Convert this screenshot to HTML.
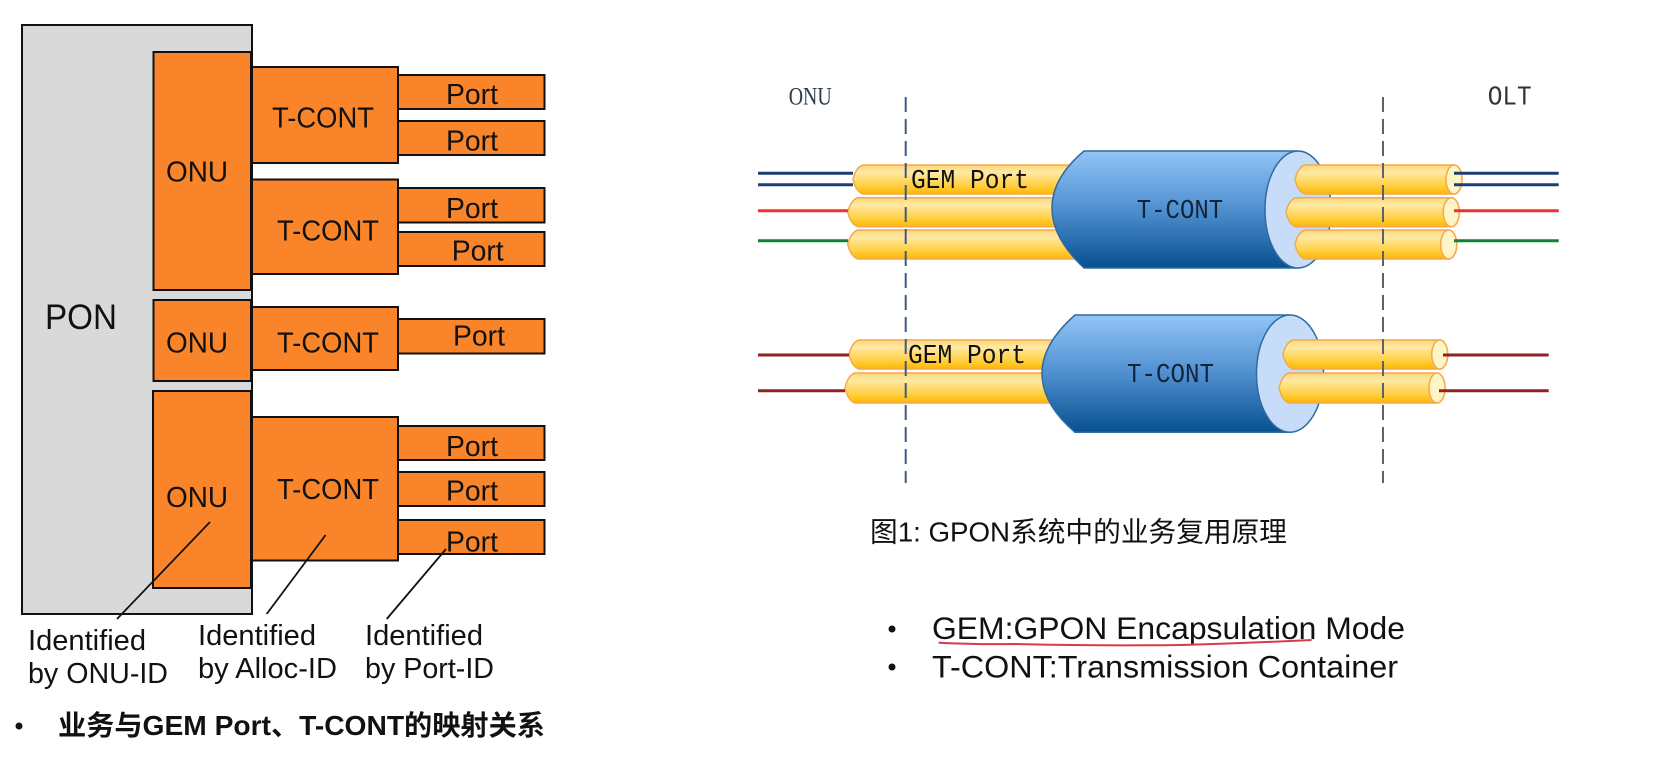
<!DOCTYPE html>
<html>
<head>
<meta charset="utf-8">
<style>
html,body{margin:0;padding:0;background:#fff;width:1669px;height:762px;overflow:hidden}
svg{display:block;filter:blur(.35px)}
text{font-family:"Liberation Sans","Noto Sans CJK SC",sans-serif;fill:#111}
.b{fill:#fa8429;stroke:#111;stroke-width:2}
.l{font-size:29px}
.m{font-family:"Liberation Mono",monospace;font-size:27px}
.s{font-family:"Liberation Serif",serif;font-size:25px}
.w{fill:none;stroke-width:3}
</style>
</head>
<body>
<svg width="1669" height="762" viewBox="0 0 1669 762" xmlns="http://www.w3.org/2000/svg">
<defs>
<linearGradient id="t" x1="0" y1="0" x2="0" y2="1">
<stop offset="0" stop-color="#fbd67a"/><stop offset=".25" stop-color="#ffe9a4"/><stop offset=".7" stop-color="#ffd044"/><stop offset="1" stop-color="#ffb600"/>
</linearGradient>
<linearGradient id="c" x1="0" y1="0" x2="0" y2="1">
<stop offset="0" stop-color="#92c4f7"/><stop offset=".5" stop-color="#4f8fd0"/><stop offset="1" stop-color="#07508f"/>
</linearGradient>
</defs>

<!-- left diagram -->
<rect class="b" style="fill:#d9d9d9" x="22" y="25" width="230" height="589"/>
<rect class="b" x="153.500" y="52" width="97.500" height="238"/>
<rect class="b" x="153.500" y="300" width="97.500" height="81"/>
<rect class="b" x="153" y="391" width="98" height="197"/>
<rect class="b" x="252" y="67" width="146" height="96"/>
<rect class="b" x="252" y="179.500" width="146" height="94.500"/>
<rect class="b" x="252" y="307" width="146" height="63"/>
<rect class="b" x="252" y="417" width="146" height="143.500"/>
<rect class="b" x="398" y="75" width="146.500" height="34"/>
<rect class="b" x="398" y="121" width="146.500" height="34"/>
<rect class="b" x="398" y="188" width="146.500" height="34.500"/>
<rect class="b" x="398" y="232" width="146.500" height="34"/>
<rect class="b" x="398" y="319" width="146.500" height="34.500"/>
<rect class="b" x="398" y="426" width="146.500" height="34"/>
<rect class="b" x="398" y="472" width="146.500" height="34"/>
<rect class="b" x="398" y="520" width="146.500" height="34"/>

<text x="45" y="329" font-size="35" textLength="72" lengthAdjust="spacingAndGlyphs">PON</text>
<text class="l" x="166" y="181.700" textLength="62" lengthAdjust="spacingAndGlyphs">ONU</text>
<text class="l" x="166" y="352.700" textLength="62" lengthAdjust="spacingAndGlyphs">ONU</text>
<text class="l" x="166" y="507" textLength="62" lengthAdjust="spacingAndGlyphs">ONU</text>
<text class="l" x="272" y="127.700" textLength="102" lengthAdjust="spacingAndGlyphs">T-CONT</text>
<text class="l" x="277" y="240.700" textLength="102" lengthAdjust="spacingAndGlyphs">T-CONT</text>
<text class="l" x="277" y="352.700" textLength="102" lengthAdjust="spacingAndGlyphs">T-CONT</text>
<text class="l" x="277" y="499" textLength="102" lengthAdjust="spacingAndGlyphs">T-CONT</text>
<text class="l" x="446" y="104" textLength="52" lengthAdjust="spacingAndGlyphs">Port</text>
<text class="l" x="446" y="150.700" textLength="52" lengthAdjust="spacingAndGlyphs">Port</text>
<text class="l" x="446" y="218" textLength="52" lengthAdjust="spacingAndGlyphs">Port</text>
<text class="l" x="451.700" y="260.700" textLength="52" lengthAdjust="spacingAndGlyphs">Port</text>
<text class="l" x="453" y="345.700" textLength="52" lengthAdjust="spacingAndGlyphs">Port</text>
<text class="l" x="446" y="456" textLength="52" lengthAdjust="spacingAndGlyphs">Port</text>
<text class="l" x="446" y="500.700" textLength="52" lengthAdjust="spacingAndGlyphs">Port</text>
<text class="l" x="446" y="551.700" textLength="52" lengthAdjust="spacingAndGlyphs">Port</text>

<g stroke="#111" stroke-width="1.800">
<line x1="210" y1="522" x2="117" y2="619"/>
<line x1="325.600" y1="535" x2="266.700" y2="614"/>
<line x1="446" y1="549" x2="386.700" y2="619"/>
</g>

<g font-size="29">
<text x="28" y="650" textLength="118" lengthAdjust="spacingAndGlyphs">Identified</text>
<text x="28" y="683" textLength="140" lengthAdjust="spacingAndGlyphs">by ONU-ID</text>
<text x="198" y="645" textLength="118" lengthAdjust="spacingAndGlyphs">Identified</text>
<text x="198" y="678" textLength="139" lengthAdjust="spacingAndGlyphs">by Alloc-ID</text>
<text x="365" y="645" textLength="118" lengthAdjust="spacingAndGlyphs">Identified</text>
<text x="365" y="678" textLength="129" lengthAdjust="spacingAndGlyphs">by Port-ID</text>
</g>
<circle cx="19" cy="726" r="3.500" fill="#111"/>
<text x="58" y="735" font-size="28" font-weight="bold" textLength="487" lengthAdjust="spacingAndGlyphs">业务与GEM Port、T-CONT的映射关系</text>

<!-- left tubes -->
<g fill="url(#t)" stroke="#f3a94c" stroke-width="1.500">
<path d="M863 165H1110V194H863Q856 192 853 179.500Q856 167 863 165Z"/>
<path d="M858 197.700H1110V226.700H858Q851 225 847.700 212Q851 199.700 858 197.700Z"/>
<path d="M858 230H1110V259H858Q851 257 847.700 244.500Q851 232 858 230Z"/>
<path d="M859 340H1100V369H859Q852 367 849 354.500Q852 342 859 340Z"/>
<path d="M855 373H1100V403H855Q848 401 845 388Q848 375 855 373Z"/>
</g>

<!-- top cable body -->
<path d="M1084 151H1298V268H1084Q1052 238 1052 208Q1052 178 1084 151Z" fill="url(#c)" stroke="#2f6b9f" stroke-width="1.500"/>
<ellipse cx="1298" cy="209.500" rx="33" ry="58.500" fill="#c6dcf8" stroke="#2f6b9f" stroke-width="1.500"/>
<!-- bottom cable body -->
<path d="M1075 315H1290V432.300H1075Q1042 404 1042 373.500Q1042 344 1075 315Z" fill="url(#c)" stroke="#2f6b9f" stroke-width="1.500"/>
<ellipse cx="1290" cy="373.600" rx="33.500" ry="58.600" fill="#c6dcf8" stroke="#2f6b9f" stroke-width="1.500"/>

<!-- right tubes -->
<g stroke="#f3a94c" stroke-width="1.500">
<path fill="url(#t)" d="M1305 165H1454A8 14.500 0 0 1 1454 194H1305Q1298 192 1295 179.500Q1298 167 1305 165Z"/>
<ellipse cx="1454" cy="179.500" rx="8" ry="14.500" fill="#fdf5c6"/>
<path fill="url(#t)" d="M1296 197.700H1451.300A8 14.500 0 0 1 1451.300 226.700H1296Q1289 225 1286 212Q1289 199.700 1296 197.700Z"/>
<ellipse cx="1451.300" cy="212.200" rx="8" ry="14.500" fill="#fdf5c6"/>
<path fill="url(#t)" d="M1305 230H1448.700A8 14.500 0 0 1 1448.700 259H1305Q1298 257 1295 244.500Q1298 232 1305 230Z"/>
<ellipse cx="1448.700" cy="244.500" rx="8" ry="14.500" fill="#fdf5c6"/>
<path fill="url(#t)" d="M1293 340H1439.700A8 14.500 0 0 1 1439.700 369H1293Q1286 367 1283 354.500Q1286 342 1293 340Z"/>
<ellipse cx="1439.700" cy="354.500" rx="8" ry="14.500" fill="#fdf5c6"/>
<path fill="url(#t)" d="M1289 373H1437A8 15 0 0 1 1437 403H1289Q1282 401 1279 388Q1282 375 1289 373Z"/>
<ellipse cx="1437" cy="388" rx="8" ry="15" fill="#fdf5c6"/>
</g>

<!-- wires -->
<path class="w" stroke="#1d3f73" d="M758 173.300H853M758 184.700H853M1454 173.300H1558.700M1454 184.700H1558.700"/>
<path class="w" stroke="#f0302a" d="M758 210.700H848M1454 210.700H1558.700"/>
<path class="w" stroke="#12803a" d="M758 240.700H848M1454 240.700H1558.700"/>
<path class="w" stroke="#8f2222" d="M758 355H849M758 390.700H845M1443 355H1548.700M1439 390.700H1548.700"/>

<!-- dashed lines -->
<line x1="905.700" y1="97" x2="905.700" y2="483" stroke="#3d5a82" stroke-width="2" stroke-dasharray="15 7"/>
<line x1="1383" y1="97" x2="1383" y2="483" stroke="#55646f" stroke-width="2" stroke-dasharray="15 7"/>

<text class="s" x="788.700" y="104.300" textLength="43" lengthAdjust="spacingAndGlyphs" style="fill:#2d3a4a">ONU</text>
<text class="m" x="1487.700" y="104.300" textLength="44" lengthAdjust="spacingAndGlyphs" style="fill:#333">OLT</text>
<text class="m" x="911" y="188" textLength="118" lengthAdjust="spacingAndGlyphs">GEM Port</text>
<text class="m" x="908" y="363" textLength="118" lengthAdjust="spacingAndGlyphs">GEM Port</text>
<text class="m" x="1136.700" y="218" textLength="86.500" lengthAdjust="spacingAndGlyphs" style="fill:#12243a">T-CONT</text>
<text class="m" x="1127" y="382" textLength="87" lengthAdjust="spacingAndGlyphs" style="fill:#12243a">T-CONT</text>

<!-- captions -->
<text x="870" y="541.700" font-size="27.600" textLength="417" lengthAdjust="spacingAndGlyphs">图1: GPON系统中的业务复用原理</text>
<circle cx="892" cy="629" r="3.500" fill="#111"/>
<circle cx="892" cy="667" r="3.500" fill="#111"/>
<text x="932" y="639" font-size="31.500" textLength="473" lengthAdjust="spacingAndGlyphs">GEM:GPON Encapsulation Mode</text>
<text x="932" y="677.700" font-size="31.500" textLength="466" lengthAdjust="spacingAndGlyphs">T-CONT:Transmission Container</text>
<path d="M938.600 642.700Q975 644.500 1014 644Q1100 646 1182 645Q1250 643 1311.600 640" fill="none" stroke="#d83a4a" stroke-width="2"/>
</svg>
</body>
</html>
